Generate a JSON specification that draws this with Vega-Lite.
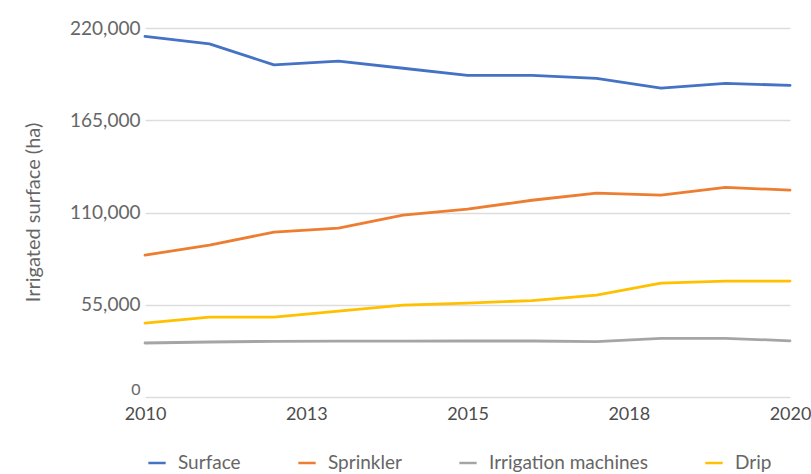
{
  "$schema": "https://vega.github.io/schema/vega-lite/v6.json",
  "width": 645,
  "height": 369,
  "autosize": "none",
  "padding": {"left": 145, "top": 28, "right": 21, "bottom": 77},
  "background": "white",
  "config": {
    "font": "Lato",
    "view": {"stroke": null},
    "axis": {"labelColor": "#666666", "titleColor": "#666666", "labelFontSize": 19, "titleFontSize": 20, "titleFontWeight": "normal"}
  },
  "data": {
    "values": [
      {"year": 2010, "type": "Surface", "ha": 215000},
      {"year": 2011, "type": "Surface", "ha": 210500},
      {"year": 2012, "type": "Surface", "ha": 198000},
      {"year": 2013, "type": "Surface", "ha": 200300},
      {"year": 2014, "type": "Surface", "ha": 196000},
      {"year": 2015, "type": "Surface", "ha": 191800},
      {"year": 2016, "type": "Surface", "ha": 191800},
      {"year": 2017, "type": "Surface", "ha": 190000},
      {"year": 2018, "type": "Surface", "ha": 184200},
      {"year": 2019, "type": "Surface", "ha": 187000},
      {"year": 2020, "type": "Surface", "ha": 185800},
      {"year": 2010, "type": "Sprinkler", "ha": 84600},
      {"year": 2011, "type": "Sprinkler", "ha": 90500},
      {"year": 2012, "type": "Sprinkler", "ha": 98300},
      {"year": 2013, "type": "Sprinkler", "ha": 100700},
      {"year": 2014, "type": "Sprinkler", "ha": 108400},
      {"year": 2015, "type": "Sprinkler", "ha": 112000},
      {"year": 2016, "type": "Sprinkler", "ha": 117300},
      {"year": 2017, "type": "Sprinkler", "ha": 121500},
      {"year": 2018, "type": "Sprinkler", "ha": 120300},
      {"year": 2019, "type": "Sprinkler", "ha": 125000},
      {"year": 2020, "type": "Sprinkler", "ha": 123300},
      {"year": 2010, "type": "Irrigation machines", "ha": 32200},
      {"year": 2011, "type": "Irrigation machines", "ha": 32800},
      {"year": 2012, "type": "Irrigation machines", "ha": 33200},
      {"year": 2013, "type": "Irrigation machines", "ha": 33300},
      {"year": 2014, "type": "Irrigation machines", "ha": 33300},
      {"year": 2015, "type": "Irrigation machines", "ha": 33400},
      {"year": 2016, "type": "Irrigation machines", "ha": 33400},
      {"year": 2017, "type": "Irrigation machines", "ha": 33000},
      {"year": 2018, "type": "Irrigation machines", "ha": 35000},
      {"year": 2019, "type": "Irrigation machines", "ha": 35000},
      {"year": 2020, "type": "Irrigation machines", "ha": 33500},
      {"year": 2010, "type": "Drip", "ha": 44000},
      {"year": 2011, "type": "Drip", "ha": 47600},
      {"year": 2012, "type": "Drip", "ha": 47600},
      {"year": 2013, "type": "Drip", "ha": 51200},
      {"year": 2014, "type": "Drip", "ha": 54800},
      {"year": 2015, "type": "Drip", "ha": 56000},
      {"year": 2016, "type": "Drip", "ha": 57500},
      {"year": 2017, "type": "Drip", "ha": 60700},
      {"year": 2018, "type": "Drip", "ha": 67900},
      {"year": 2019, "type": "Drip", "ha": 69100},
      {"year": 2020, "type": "Drip", "ha": 69100}
    ]
  },
  "mark": {"type": "line", "strokeWidth": 2.8, "interpolate": "linear", "strokeJoin": "round", "strokeCap": "round"},
  "encoding": {
    "x": {
      "field": "year", "type": "quantitative",
      "scale": {"domain": [2010, 2020], "nice": false, "zero": false},
      "axis": {"values": [2010, 2012.5, 2015, 2017.5, 2020], "format": "d", "title": null, "grid": false, "domain": false, "ticks": false, "labelPadding": 8, "labelFontSize": 18, "labelColor": "#4d4d4d", "labelFlush": false}
    },
    "y": {
      "field": "ha", "type": "quantitative",
      "scale": {"domain": [0, 220000], "nice": false},
      "axis": {"values": [0, 55000, 110000, 165000, 220000], "format": ",d", "title": "Irrigated surface (ha)", "titleX": -112, "titleY": 184, "titleAngle": -90, "titleAlign": "center", "titleBaseline": "middle", "grid": true, "gridColor": "#DDDDDD", "gridWidth": 1.5, "domain": false, "ticks": false, "labelPadding": 5,
        "labelFontSize": {"condition": {"test": "datum.value === 0", "value": 16}, "value": 19},
        "labelBaseline": {"condition": {"test": "datum.value === 0", "value": "bottom"}, "value": "middle"}}
    },
    "color": {
      "field": "type", "type": "nominal",
      "scale": {"domain": ["Surface", "Sprinkler", "Irrigation machines", "Drip"], "range": ["#4472C4", "#ED7D31", "#A5A5A5", "#FFC000"]},
      "legend": {
        "title": null, "orient": "none", "direction": "horizontal", "legendX": 2, "legendY": 425,
        "symbolType": "stroke", "symbolStrokeWidth": 2.5, "symbolSize": 300,
        "labelFontSize": 19, "labelColor": "#666666", "columnPadding": 52, "labelOffset": 11
      }
    }
  }
}
